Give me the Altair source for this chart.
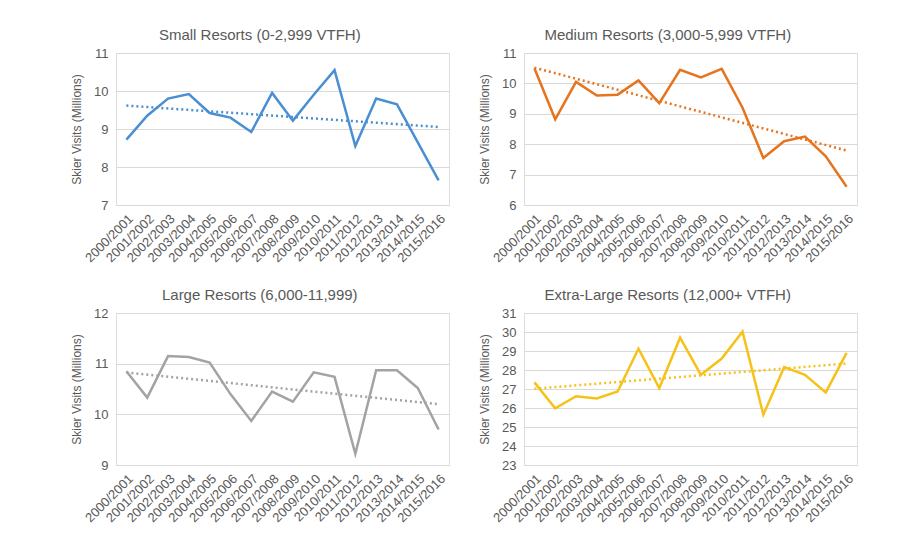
import altair as alt
import pandas as pd

seasons = ["2000/2001", "2001/2002", "2002/2003", "2003/2004", "2004/2005",
           "2005/2006", "2006/2007", "2007/2008", "2008/2009", "2009/2010",
           "2010/2011", "2011/2012", "2012/2013", "2013/2014", "2014/2015",
           "2015/2016"]

small = [8.72, 9.35, 9.8, 9.92, 9.42, 9.3, 8.92, 9.95, 9.22, 9.9, 10.55, 8.55, 9.8, 9.65, 8.65, 7.65]
medium = [10.5, 8.82, 10.05, 9.6, 9.63, 10.1, 9.35, 10.45, 10.2, 10.48, 9.2, 7.55, 8.1, 8.25, 7.6, 6.6]
large = [10.85, 10.33, 11.15, 11.13, 11.02, 10.4, 9.87, 10.45, 10.25, 10.83, 10.74, 9.22, 10.87, 10.87, 10.52, 9.7]
xlarge = [27.35, 25.98, 26.62, 26.5, 26.87, 29.12, 27.05, 29.7, 27.75, 28.6, 30.02, 25.65, 28.15, 27.75, 26.82, 28.9]

titles = ["Small Resorts (0-2,999 VTFH)", "Medium Resorts (3,000-5,999 VTFH)",
          "Large Resorts (6,000-11,999)", "Extra-Large Resorts (12,000+ VTFH)"]
colors = ["#4a8fd2", "#e6731e", "#a3a3a3", "#f6c21a"]
domains = [(7, 11), (6, 11), (9, 12), (23, 31)]

label_expr = "[" + ",".join("'%s'" % s for s in seasons) + "][datum.value]"
TXT = "#595959"


def panel(title, vals, color, lo, hi):
    df = pd.DataFrame({"i": list(range(len(seasons))), "season": seasons, "v": vals})
    yvals = list(range(lo, hi + 1))
    x = alt.X("i:Q",
              scale=alt.Scale(domain=[-0.5, 15.5], nice=False, zero=False),
              axis=alt.Axis(values=list(range(16)), labelExpr=label_expr, labelAngle=-45,
                            labelOverlap=False, labelFlush=False, tickCount=16,
                            grid=False, domain=False, ticks=False, title=None,
                            labelFontSize=13, labelColor=TXT, labelPadding=7))
    y = alt.Y("v:Q",
              scale=alt.Scale(domain=[lo, hi], nice=False, zero=False),
              axis=alt.Axis(values=yvals, tickCount=len(yvals),
                            title="Skier Visits (Millions)",
                            labelOverlap=False, labelFlush=False,
                            domain=False, ticks=False, labelFontSize=13, labelColor=TXT,
                            labelPadding=8, titleFontSize=12, titleColor=TXT,
                            titleFontWeight="normal", titlePadding=10,
                            gridColor="#d9d9d9", gridWidth=1))
    base = alt.Chart(df).encode(x=x, y=y)
    line = base.mark_line(color=color, strokeWidth=2.5, clip=True)
    trend = base.transform_regression("i", "v", extent=[0, 15]).mark_line(
        color=color, strokeWidth=2.5, strokeDash=[2, 3], clip=True)
    return alt.layer(line, trend).properties(
        width=333, height=152,
        title=alt.TitleParams(title, fontSize=15, color=TXT, fontWeight="normal",
                              offset=4, anchor="middle", frame="bounds"))


panels = [panel(t, v, c, d[0], d[1]) for t, v, c, d in
          zip(titles, [small, medium, large, xlarge], colors, domains)]

chart = alt.vconcat(
    alt.hconcat(panels[0], panels[1], spacing=28),
    alt.hconcat(panels[2], panels[3], spacing=28),
    spacing=21,
).properties(
    padding={"left": 62, "top": 19, "right": 5, "bottom": 5}
).configure_view(stroke=None).configure(font="Liberation Sans", background="white")

chart.save("out.html", embed_options={"renderer": "svg", "actions": False})
